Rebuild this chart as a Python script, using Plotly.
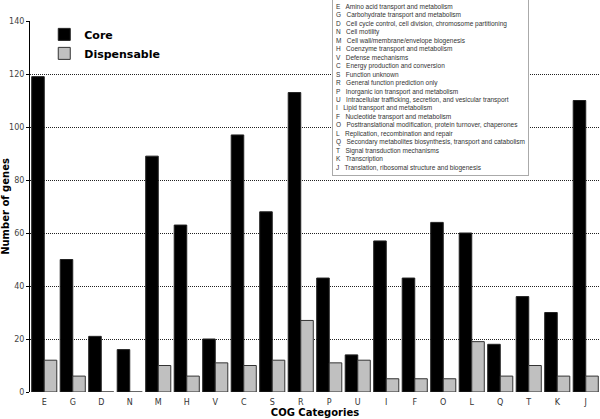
import plotly.graph_objects as go

categories = ["E", "G", "D", "N", "M", "H", "V", "C", "S", "R",
              "P", "U", "I", "F", "O", "L", "Q", "T", "K", "J"]
core = [119, 50, 21, 16, 89, 63, 20, 97, 68, 113,
        43, 14, 57, 43, 64, 60, 18, 36, 30, 110]
dispensable = [12, 6, 0, 0, 10, 6, 11, 10, 12, 27,
               11, 12, 5, 5, 5, 19, 6, 10, 6, 6]
y_ticks = [0, 20, 40, 60, 80, 100, 120, 140]

cog_codes = ["E", "G", "D", "N", "M", "H", "V", "C", "S", "R", "P", "U",
             "I", "F", "O", "L", "Q", "T", "K", "J"]
cog_names = [
    "Amino acid transport and metabolism",
    "Carbohydrate transport and metabolism",
    "Cell cycle control, cell division, chromosome partitioning",
    "Cell motility",
    "Cell wall/membrane/envelope biogenesis",
    "Coenzyme transport and metabolism",
    "Defense mechanisms",
    "Energy production and conversion",
    "Function unknown",
    "General function prediction only",
    "Inorganic ion transport and metabolism",
    "Intracellular trafficking, secretion, and vesicular transport",
    "Lipid transport and metabolism",
    "Nucleotide transport and metabolism",
    "Posttranslational modification, protein turnover, chaperones",
    "Replication, recombination and repair",
    "Secondary metabolites biosynthesis, transport and catabolism",
    "Signal transduction mechanisms",
    "Transcription",
    "Translation, ribosomal structure and biogenesis",
]

fig = go.Figure()
fig.add_trace(go.Bar(x=categories, y=core, name="Core",
                     marker=dict(color="#000000", line=dict(color="#222222", width=1))))
fig.add_trace(go.Bar(x=categories, y=dispensable, name="Dispensable",
                     marker=dict(color="#c0c0c0", line=dict(color="#333333", width=1))))

desc_text = "<br>".join(f"{c}&nbsp;&nbsp; {n}" for c, n in zip(cog_codes, cog_names))
fig.add_annotation(
    xref="paper", yref="paper",
    x=(332 - 30) / 570, y=1 + 22 / 371,
    xanchor="left", yanchor="top",
    text=desc_text, showarrow=False, align="left",
    font=dict(family="Liberation Sans", size=6.5, color="#333333"),
    bordercolor="#aaaaaa", borderwidth=1, borderpad=3, bgcolor="white",
)

fig.update_layout(
    width=600, height=419,
    margin=dict(l=30, r=0, t=21, b=27),
    plot_bgcolor="white", paper_bgcolor="white",
    barmode="group", bargap=0.12, bargroupgap=0,
    font=dict(family="DejaVu Sans", color="#333333"),
    legend=dict(x=0.025, y=1.003, xanchor="left", yanchor="top",
                font=dict(family="DejaVu Sans", size=11, color="#000000", weight="bold"),
                bgcolor="rgba(0,0,0,0)", itemwidth=30),
    showlegend=True,
)
fig.update_yaxes(
    range=[0, 140], tickvals=y_ticks, showgrid=True, gridcolor="#222222",
    griddash="1px,1px", gridwidth=1, zeroline=False, showline=True, linecolor="#000000",
    linewidth=1, ticks="outside", ticklen=3, tickcolor="#000000",
    tickfont=dict(size=8, color="#444444"), automargin=False,
    title=dict(text="Number of genes", font=dict(size=10, color="#000000", weight="bold"),
               standoff=8),
)
fig.update_xaxes(
    showgrid=False, showline=False, tickfont=dict(size=8, color="#333333"),
    automargin=False, ticklabelstandoff=4,
    title=dict(text="COG Categories", font=dict(size=10, color="#000000", weight="bold"),
               standoff=2),
)

fig.write_html("out.html", post_script="document.body.style.margin='0';",
               config={"displayModeBar": False})
